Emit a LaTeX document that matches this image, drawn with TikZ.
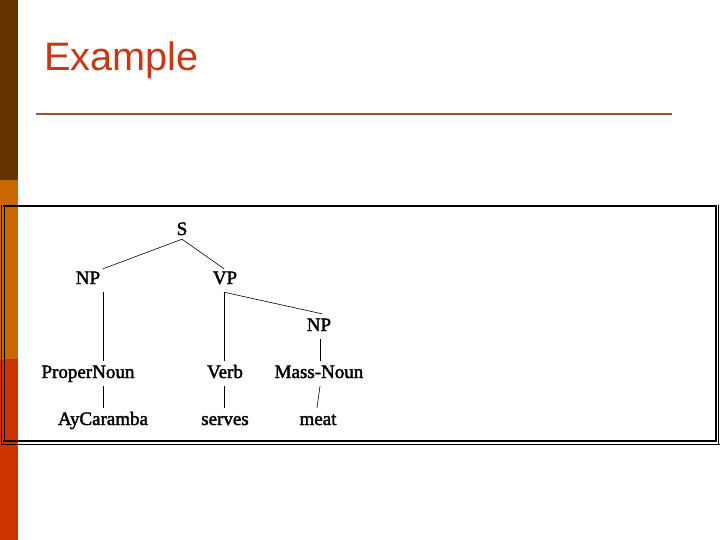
\documentclass[tikz,border=0pt]{standalone}
\usepackage{fontspec}
\setmainfont{Liberation Serif}
\newfontfamily\treefont[FakeBold=2]{Liberation Serif}
\newfontfamily\titlefont{Liberation Sans}
\definecolor{barbrown}{HTML}{663300}
\definecolor{barorange}{HTML}{CC6600}
\definecolor{barred}{HTML}{CC3300}
\definecolor{titlecol}{HTML}{C23B16}
\definecolor{rulecol}{HTML}{A0522D}
\tikzset{
  lbl/.style={font=\treefont\fontsize{19}{19}\selectfont, inner xsep=0pt, inner ysep=4pt,
    text height=13pt, text depth=4pt, anchor=base},
  branch/.style={line width=0.6pt, black},
}
\begin{document}
\begin{tikzpicture}[x=1pt,y=-1pt]
\useasboundingbox (0,0) rectangle (720,540);
\fill[white] (0,0) rectangle (720,540);
% left bar
\fill[barbrown] (0,0) rectangle (18,180);
\fill[barorange] (0,180) rectangle (18,359);
\fill[barred] (0,359) rectangle (18,540);
% title
\node[font=\titlefont\fontsize{39.7}{39.7}\selectfont, text=titlecol, anchor=base west, inner sep=0pt] (title) at (44,71) {Example};
\coordinate (ruleL) at (36,114);
\coordinate (ruleR) at (672,114);
\draw[rulecol, line width=2pt] (ruleL) -- (ruleR);
% frame
\draw[black, line width=2.8pt] (3,206) -- (717,206);
\draw[black, line width=2.8pt] (716,206) -- (716,441.5);
\draw[black, line width=2.8pt] (3,441) -- (717,441);
\draw[black, line width=0.8pt] (1,444) -- (720,444);
\draw[black, line width=0.8pt] (1,205) -- (1,444);
\draw[black, line width=0.8pt] (4,206) -- (4,441);
\draw[black, line width=0.8pt] (718.5,205) -- (718.5,444);
% tree nodes
\node[lbl] (s) at (182,235) {S};
\node[lbl] (np) at (88,284) {NP};
\node[lbl] (vp) at (225,284) {VP};
\node[lbl] (np2) at (319,331) {NP};
\node[lbl] (pn) at (88,378) {ProperNoun};
\node[lbl] (verb) at (225,378) {Verb};
\node[lbl] (mn) at (319,378) {Mass-Noun};
\node[lbl] (ay) at (103,425) {AyCaramba};
\node[lbl] (serves) at (225,425) {serves};
\node[lbl] (meat) at (318,425) {meat};
% branches
\draw[branch] ([yshift=4pt]s.south) -- ([yshift=-2pt]np.north -| ay.north);
\draw[branch] ([yshift=4pt]s.south) -- ([xshift=-1pt,yshift=-2pt]vp.north);
\draw[branch] (np.south -| ay.north) -- (pn.north -| ay.north);
\draw[branch] (pn.south -| ay.north) -- (ay.north);
\draw[branch] ([xshift=-1pt]vp.south) -- ([xshift=3pt]np2.north);
\draw[branch] ([xshift=-1pt]vp.south) -- ([xshift=-1pt]verb.north);
\draw[branch] ([xshift=-1pt]verb.south) -- ([xshift=-1pt]serves.north);
\draw[branch] ([xshift=1pt]np2.south) -- ([xshift=1pt]mn.north);
\draw[branch] ([xshift=1pt]mn.south) -- ([xshift=-1pt]meat.north);
\end{tikzpicture}
\end{document}
